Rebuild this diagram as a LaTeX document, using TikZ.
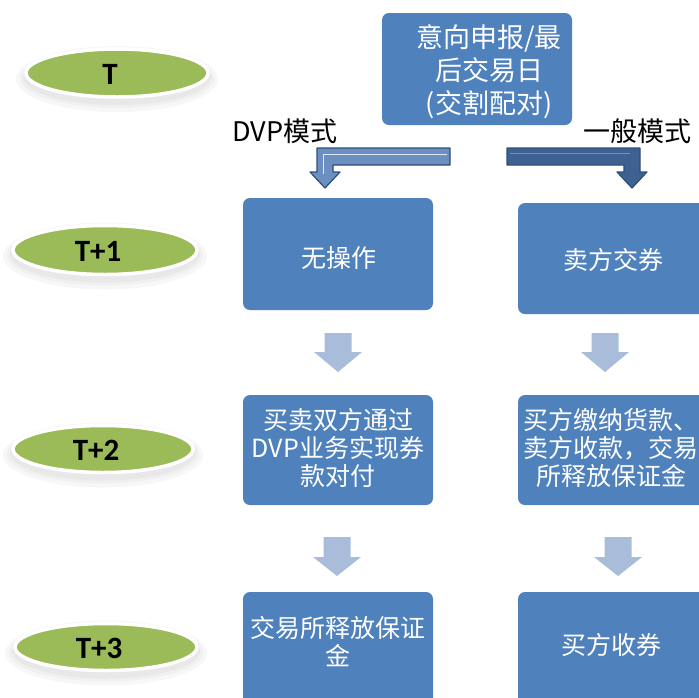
\documentclass[tikz,border=0pt]{standalone}
\usepackage{fontspec}
\setmainfont{Noto Sans CJK SC}
\newfontfamily\latinb{Carlito}
\definecolor{boxblue}{HTML}{4F81BD}
\definecolor{dayg}{HTML}{9BBB59}
\definecolor{lightarr}{HTML}{A9BCD9}
\definecolor{darkarr}{HTML}{3D6191}
\definecolor{darkedge}{HTML}{2E4D77}
\definecolor{midarr}{HTML}{6B8FC0}
\newcommand\myDownArrow[4]{% center x, top y, head y, tip y
  \fill[lightarr] (#1-13.5,#2) -- (#1+13.5,#2) -- (#1+13.5,#3) -- (#1+24,#3) -- (#1,#4) -- (#1-24,#3) -- (#1-13.5,#3) -- cycle;}
\begin{document}
\begin{tikzpicture}[x=1pt,y=-1pt,
  box/.style={fill=boxblue, rounded corners=7pt, inner sep=0pt},
  btext/.style={text=white, align=center, font=\fontsize{25}{28}\selectfont, inner sep=0pt},
  daytext/.style={font=\latinb\bfseries\fontsize{31}{34}\selectfont, text=black, inner sep=0pt}
]
\useasboundingbox (0,0) rectangle (699,697);
\fill[white] (0,0) rectangle (699,697);

% day ellipses with soft shadow
\foreach \n/\cx/\cy/\rx/\ry/\lab in {t0/117/73/91/24/T, t1/105/250/92/24.5/T+1, t2/103/449/90/23.5/T+2, t3/106/647/91/23.5/T+3}{
  \fill[black!3] (\cx,\cy+6) ellipse ({\rx+10} and {\ry+9});
  \fill[black!6] (\cx,\cy+5) ellipse ({\rx+6} and {\ry+6});
  \fill[black!9] (\cx,\cy+4) ellipse ({\rx+3} and {\ry+4});
  \fill[dayg, draw=white, line width=3.5pt] (\cx,\cy) ellipse ({\rx} and {\ry});
  \node[daytext] (\n) at (\cx-7,\cy+1) {\lab};
}

% top box
\node[box, minimum width=190pt, minimum height=112pt] (top) at (477,69) {};
\node[btext, font=\fontsize{27}{33}\selectfont] (toptext) at (489,72) {意向申报/最\\后交易日\\(交割配对)};

% mode labels
\node[font=\fontsize{27}{30}\selectfont, inner sep=0pt] (dvp) at (285,131) {DVP模式};
\node[font=\fontsize{27}{30}\selectfont, inner sep=0pt] (gen) at (637,131) {一般模式};

% bent arrows
\filldraw[fill=midarr, draw=darkedge, line width=1.2pt, line join=round]
  (450,148) -- (450,165) -- (333,165) -- (333,172) -- (340,172) -- (325,188) -- (310,172) -- (317,172) -- (317,148) -- cycle;
\draw[white!80!midarr, line width=1pt] (447,154) -- (323,154) -- (323,174);
\filldraw[fill=darkarr, draw=darkedge, line width=1.2pt, line join=round]
  (507,148) -- (640,148) -- (640,172) -- (647,172) -- (632,188) -- (617,172) -- (624,172) -- (624,165) -- (507,165) -- cycle;
\draw[darkarr!70!white, line width=0.8pt] (510,153) -- (630,153);

% row boxes
\node[box, minimum width=190pt, minimum height=112pt] (l1) at (338,254) {};
\node[box, minimum width=194pt, minimum height=111pt] (r1) at (615,258.5) {};
\node[box, minimum width=190pt, minimum height=110pt] (l2) at (338,450) {};
\node[box, minimum width=194pt, minimum height=110pt] (r2) at (615,450) {};
\node[box, minimum width=190pt, minimum height=113pt] (l3) at (338,648.5) {};
\node[box, minimum width=194pt, minimum height=113pt] (r3) at (615,648.5) {};

\node[btext] (l1t) at (339,258) {无操作};
\node[btext] (r1t) at (613,260) {卖方交券};
\node[btext] (l2t) at (338,448) {买卖双方通过\\DVP业务实现券\\款对付};
\node[btext] (r2t) at (611,448) {买方缴纳货款、\\卖方收款，交易\\所释放保证金};
\node[btext] (l3t) at (338,642) {交易所释放保证\\金};
\node[btext] (r3t) at (611,645) {买方收券};

% down arrows
\myDownArrow{338}{333}{352}{372}
\myDownArrow{605}{333}{352}{372}
\myDownArrow{337}{537}{557}{576}
\myDownArrow{618}{537}{557}{576}
\end{tikzpicture}
\end{document}
